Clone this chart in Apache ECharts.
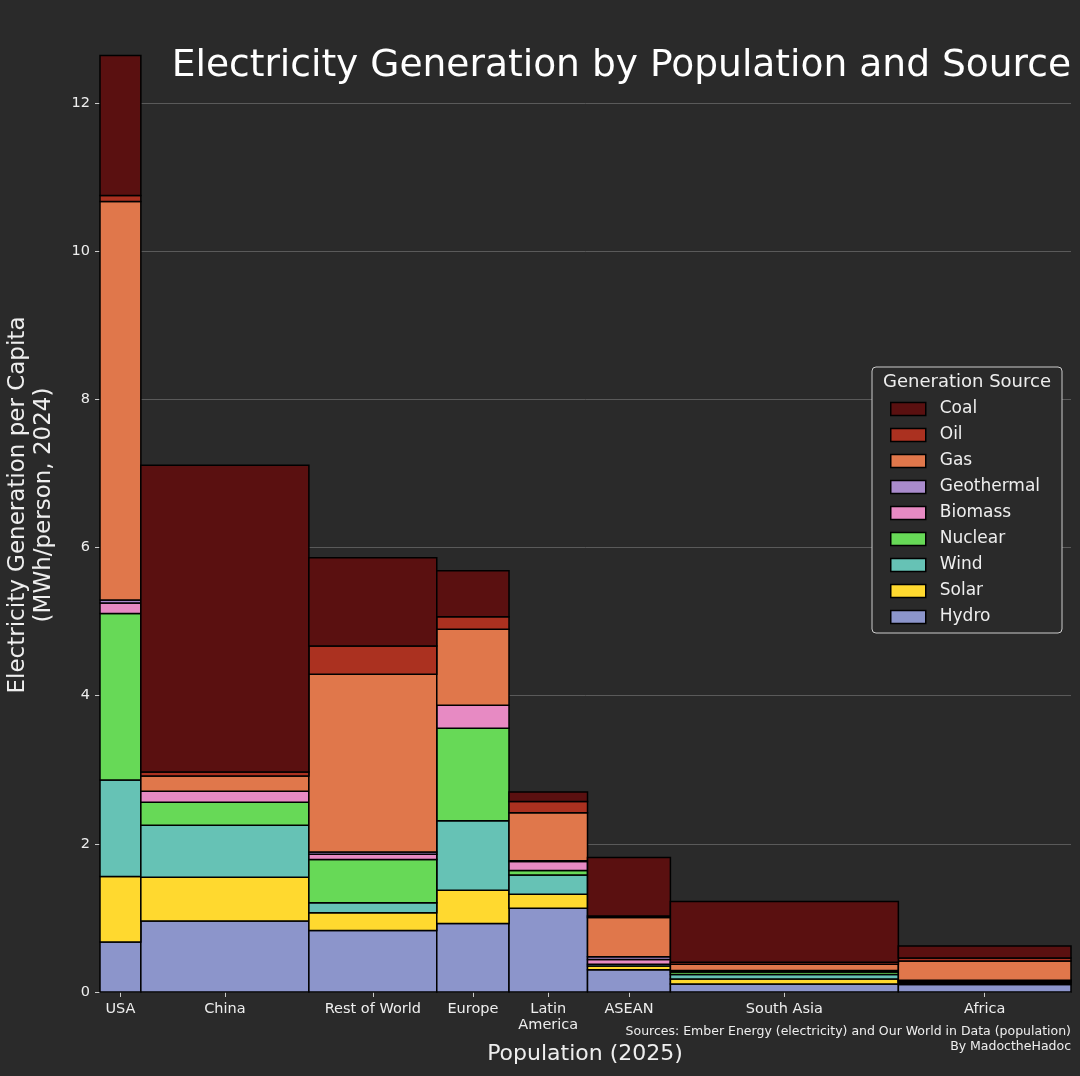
<!DOCTYPE html>
<html>
<head>
<meta charset="utf-8">
<script src="https://cdn.jsdelivr.net/npm/echarts@6/dist/echarts.min.js"></script>
<style>
  html, body { margin: 0; padding: 0; background: #2a2a2a; }
  #chart { width: 1080px; height: 1076px; }
</style>
</head>
<body>
<div id="chart"></div>
<script>
// regions, left to right, and their population (millions, 2025)
const regions = ["USA", "China", "Rest of World", "Europe", "Latin\nAmerica", "ASEAN", "South Asia", "Africa"];
const population = [345, 1419, 1080, 610, 663, 700, 1925, 1458];

// generation per capita (MWh/person, 2024), one array per source
const hydro      = [0.675, 0.96, 0.83,  0.925, 1.13, 0.30,  0.108, 0.10];
const solar      = [0.885, 0.59, 0.24,  0.45,  0.19, 0.05,  0.067, 0.02];
const wind       = [1.30,  0.70, 0.135, 0.935, 0.26, 0.025, 0.06,  0.015];
const nuclear    = [2.25,  0.31, 0.585, 1.25,  0.06, 0,     0.035, 0.01];
const biomass    = [0.14,  0.15, 0.07,  0.31,  0.12, 0.065, 0.02,  0.01];
const geothermal = [0.04,  0,    0.03,  0,     0.01, 0.035, 0,     0.005];
const gas        = [5.38,  0.205, 2.40, 1.025, 0.65, 0.53,  0.084, 0.26];
const oil        = [0.08,  0.055, 0.38, 0.17,  0.15, 0.02,  0.026, 0.04];
const coal       = [1.89,  4.14, 1.19,  0.62,  0.13, 0.79,  0.82,  0.16];

// stacking order bottom -> top
const sources = [
  { name: "Hydro", values: hydro, color: "#8c95cb" },
  { name: "Solar", values: solar, color: "#ffd92f" },
  { name: "Wind", values: wind, color: "#66c2b5" },
  { name: "Nuclear", values: nuclear, color: "#67d957" },
  { name: "Biomass", values: biomass, color: "#e78ac3" },
  { name: "Geothermal", values: geothermal, color: "#a98bcc" },
  { name: "Gas", values: gas, color: "#e0774b" },
  { name: "Oil", values: oil, color: "#ab3120" },
  { name: "Coal", values: coal, color: "#5a1010" },
];

const FONT = "DejaVu Sans, sans-serif";
const TXT = "#eeeeee";

// x extents of each region column
const x0 = [];
const x1 = [];
let acc = 0;
population.forEach((p) => {
  x0.push(acc);
  acc += p;
  x1.push(acc);
});
const totalPop = acc;
const centers = x0.map((a, i) => (a + x1[i]) / 2);

// running stack per region
const base = regions.map(() => 0);
const series = sources.map((s) => {
  const data = s.values.map((v, i) => {
    const row = [x0[i], x1[i], base[i], base[i] + v];
    base[i] += v;
    return row;
  });
  return {
    type: "custom",
    name: s.name,
    itemStyle: { color: s.color, borderColor: "#000", borderWidth: 1.5 },
    encode: { x: [0, 1], y: [2, 3] },
    renderItem: (params, api) => {
      const p0 = api.coord([api.value(0), api.value(3)]);
      const p1 = api.coord([api.value(1), api.value(2)]);
      return {
        type: "rect",
        shape: { x: p0[0], y: p0[1], width: p1[0] - p0[0], height: p1[1] - p0[1] },
        style: { fill: api.visual("color"), stroke: "#000", lineWidth: 1.5 },
      };
    },
    data,
  };
});

const chart = echarts.init(document.getElementById("chart"));

chart.setOption({
  backgroundColor: "#2a2a2a",
  animation: false,
  grid: { left: 100, right: 9, top: 103, bottom: 84 },
  xAxis: {
    type: "value",
    min: 0,
    max: totalPop,
    axisLine: { show: false },
    splitLine: { show: false },
    axisTick: { show: true, customValues: centers, length: 5, lineStyle: { color: "#cccccc" } },
    axisLabel: {
      customValues: centers,
      color: TXT,
      fontFamily: FONT,
      fontSize: 14.5,
      lineHeight: 16,
      margin: 9,
      formatter: (v) => {
        const i = centers.findIndex((c) => Math.abs(c - v) < 1e-6);
        return i >= 0 ? regions[i] : "";
      },
    },
  },
  yAxis: {
    type: "value",
    min: 0,
    max: 12,
    interval: 2,
    axisLine: { show: false },
    axisTick: { show: true, length: 5, lineStyle: { color: "#cccccc" } },
    axisLabel: { color: TXT, fontFamily: FONT, fontSize: 14.5, margin: 10 },
    splitLine: { lineStyle: { color: "#5a5a5a", width: 1 } },
  },
  legend: {
    orient: "vertical",
    left: 890,
    top: 399,
    z: 20,
    padding: 0,
    selectedMode: false,
    data: ["Coal", "Oil", "Gas", "Geothermal", "Biomass", "Nuclear", "Wind", "Solar", "Hydro"],
    icon: "rect",
    itemWidth: 35,
    itemHeight: 13,
    itemGap: 6,
    itemStyle: { borderColor: "#000", borderWidth: 1.5 },
    textStyle: { color: TXT, fontFamily: FONT, fontSize: 17, lineHeight: 20, padding: [0, 0, 0, 9] },
  },
  graphic: [
    {
      type: "text",
      right: 9,
      top: 47,
      style: { text: "Electricity Generation by Population and Source", fill: "#ffffff", font: `37.6px ${FONT}` },
    },
    {
      type: "text",
      x: 31,
      y: 505,
      rotation: Math.PI / 2,
      style: {
        text: "Electricity Generation per Capita\n(MWh/person, 2024)",
        fill: TXT,
        font: `23px ${FONT}`,
        lineHeight: 26,
        align: "center",
        verticalAlign: "middle",
      },
    },
    {
      type: "text",
      x: 585,
      y: 1054,
      style: { text: "Population (2025)", fill: TXT, font: `22px ${FONT}`, align: "center", verticalAlign: "middle" },
    },
    {
      type: "text",
      x: 1071,
      y: 1039,
      style: {
        text: "Sources: Ember Energy (electricity) and Our World in Data (population)\nBy MadoctheHadoc",
        fill: TXT,
        font: `12.5px ${FONT}`,
        lineHeight: 15,
        align: "right",
        verticalAlign: "middle",
      },
    },
    {
      type: "rect",
      z: 10,
      shape: { x: 872, y: 367, width: 190, height: 266, r: 4 },
      style: { fill: "#2a2a2a", stroke: "#cccccc", lineWidth: 1 },
    },
    {
      type: "text",
      z: 11,
      x: 967,
      y: 382,
      style: { text: "Generation Source", fill: TXT, font: `18px ${FONT}`, align: "center", verticalAlign: "middle" },
    },
  ],
  series,
});
</script>
</body>
</html>
